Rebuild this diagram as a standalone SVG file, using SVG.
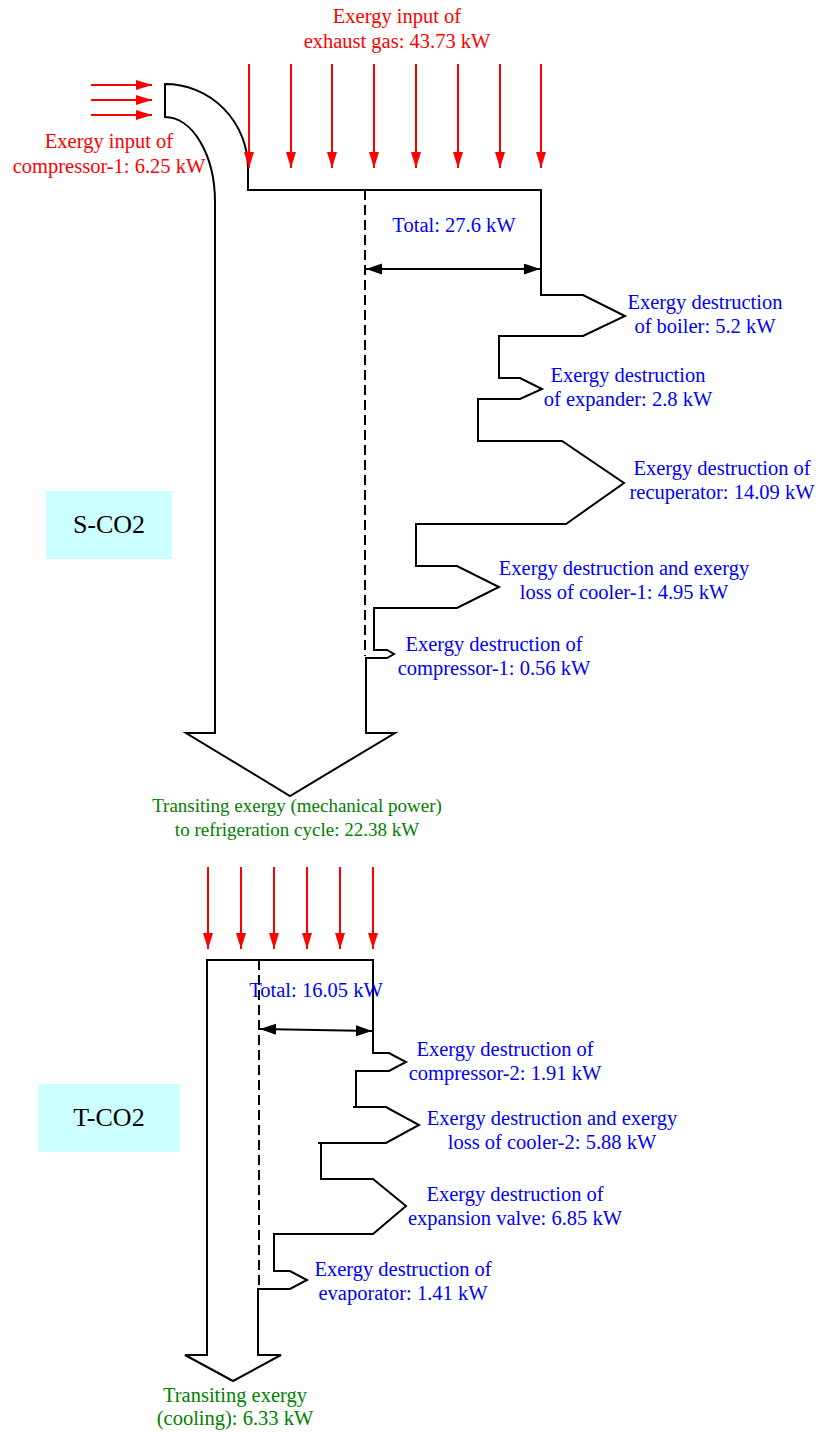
<svg xmlns="http://www.w3.org/2000/svg" width="816" height="1433" viewBox="0 0 816 1433">
<style>
.t{font-family:"Liberation Serif","Times New Roman",serif;font-size:20.5px;text-anchor:middle}
.red{fill:#ff0000}.blue{fill:#0000ff}.green{fill:#008000}
.sm{font-size:19px}
.outline{fill:#ffffff;stroke:#000;stroke-width:2;stroke-linejoin:miter}
.dash{fill:none;stroke:#000;stroke-width:2;stroke-dasharray:10,5}
.ra{stroke:#ff0000;stroke-width:2;fill:none;marker-end:url(#rh)}
.dim{stroke:#000;stroke-width:2;fill:none;marker-start:url(#bh);marker-end:url(#bh)}
.lab{font-family:"Liberation Serif","Times New Roman",serif;font-size:26px;text-anchor:middle;fill:#000}
.box{fill:#ccffff}
</style>
<defs>
<marker id="rh" markerUnits="userSpaceOnUse" markerWidth="17" markerHeight="11" refX="16" refY="5" orient="auto"><path d="M0,0 L16,5 L0,10 Z" fill="#ff0000"/></marker>
<marker id="bh" markerUnits="userSpaceOnUse" markerWidth="17" markerHeight="12" refX="16" refY="5.5" orient="auto-start-reverse"><path d="M0,0 L16,5.5 L0,11 Z" fill="#000"/></marker>
</defs>

<g id="scold-flow">
<path class="outline" d="M215,733 L215,202 A50,85 0 0 0 165,117 L165,84 A83,84 0 0 1 248,168 L248,190 L541,190 L541,295 L583,295 L625,316 L583,336 L499,336 L499,378 L520,378 L542,389 L520,399 L478,399 L478,441 L562,441 L624,483 L566,524 L416,524 L416,566 L457,566 L499,587 L457,608 L374,608 L374,650 L387,650 L394,654 L387,658 L366,658 L366,733 L395,733 L290,796 L186,733 Z"/>
<line class="dash" x1="365" y1="190" x2="365" y2="656"/>
</g>

<g id="tco2-flow">
<path class="outline" d="M207,1355 L207,960 L373,960 L373,1053 L389,1053 L406,1062 L389,1071 L356,1071 L356,1107 L386,1107 L419,1125 L386,1143 L321,1143 L321,1179 L373,1179 L406,1206 L373,1234 L274,1234 L274,1271 L290,1271 L307,1280 L290,1289 L258,1289 L258,1355 L281,1355 L233,1381 L185,1355 Z"/>
<path d="M353,1107 L356,1107 M318,1143 L321,1143" stroke="#000" stroke-width="2" fill="none"/>
<line class="dash" x1="259" y1="960" x2="259" y2="1288"/>
</g>

<g id="connectors">
<line class="ra" x1="91" y1="85" x2="152" y2="85"/>
<line class="ra" x1="91" y1="100" x2="152" y2="100"/>
<line class="ra" x1="91" y1="115" x2="152" y2="115"/>
<line class="ra" x1="249" y1="64" x2="249" y2="168"/>
<line class="ra" x1="291" y1="64" x2="291" y2="168"/>
<line class="ra" x1="332" y1="64" x2="332" y2="168"/>
<line class="ra" x1="374" y1="64" x2="374" y2="168"/>
<line class="ra" x1="416" y1="64" x2="416" y2="168"/>
<line class="ra" x1="458" y1="64" x2="458" y2="168"/>
<line class="ra" x1="500" y1="64" x2="500" y2="168"/>
<line class="ra" x1="541" y1="64" x2="541" y2="168"/>
<line class="ra" x1="208" y1="867" x2="208" y2="949"/>
<line class="ra" x1="241" y1="867" x2="241" y2="949"/>
<line class="ra" x1="274" y1="867" x2="274" y2="949"/>
<line class="ra" x1="307" y1="867" x2="307" y2="949"/>
<line class="ra" x1="340" y1="867" x2="340" y2="949"/>
<line class="ra" x1="373" y1="867" x2="373" y2="949"/>
<line class="dim" x1="366" y1="269" x2="540" y2="269"/>
<line class="dim" x1="260" y1="1029" x2="372" y2="1031"/>
</g>

<g id="label-scold">
<rect class="box" x="46" y="491" width="126" height="68"/>
<text class="lab" x="109" y="533">S-CO2</text>
</g>
<g id="label-tco2">
<rect class="box" x="38" y="1084" width="142" height="68"/>
<text class="lab" x="109" y="1126">T-CO2</text>
</g>

<g id="texts">
<text class="t red" x="397" y="23">Exergy input of</text>
<text class="t red" x="397" y="48">exhaust gas: 43.73 kW</text>
<text class="t red" x="109" y="148">Exergy input of</text>
<text class="t red" x="109" y="173">compressor-1: 6.25 kW</text>
<text class="t blue" x="454" y="232">Total: 27.6 kW</text>
<text class="t blue" x="705" y="309">Exergy destruction</text>
<text class="t blue" x="705" y="333">of boiler: 5.2 kW</text>
<text class="t blue" x="628" y="382">Exergy destruction</text>
<text class="t blue" x="628" y="406">of expander: 2.8 kW</text>
<text class="t blue" x="722" y="475">Exergy destruction of</text>
<text class="t blue" x="722" y="499">recuperator: 14.09 kW</text>
<text class="t blue" x="624" y="575">Exergy destruction and exergy</text>
<text class="t blue" x="624" y="599">loss of cooler-1: 4.95 kW</text>
<text class="t blue" x="494" y="651">Exergy destruction of</text>
<text class="t blue" x="494" y="675">compressor-1: 0.56 kW</text>
<text class="t green sm" x="297" y="812">Transiting exergy (mechanical power)</text>
<text class="t green sm" x="297" y="836">to refrigeration cycle: 22.38 kW</text>
<text class="t blue" x="316" y="997">Total: 16.05 kW</text>
<text class="t blue" x="505" y="1056">Exergy destruction of</text>
<text class="t blue" x="505" y="1080">compressor-2: 1.91 kW</text>
<text class="t blue" x="552" y="1125">Exergy destruction and exergy</text>
<text class="t blue" x="552" y="1149">loss of cooler-2: 5.88 kW</text>
<text class="t blue" x="515" y="1201">Exergy destruction of</text>
<text class="t blue" x="515" y="1225">expansion valve: 6.85 kW</text>
<text class="t blue" x="403" y="1276">Exergy destruction of</text>
<text class="t blue" x="403" y="1300">evaporator: 1.41 kW</text>
<text class="t green" x="235" y="1402">Transiting exergy</text>
<text class="t green" x="235" y="1425">(cooling): 6.33 kW</text>
</g>
</svg>
